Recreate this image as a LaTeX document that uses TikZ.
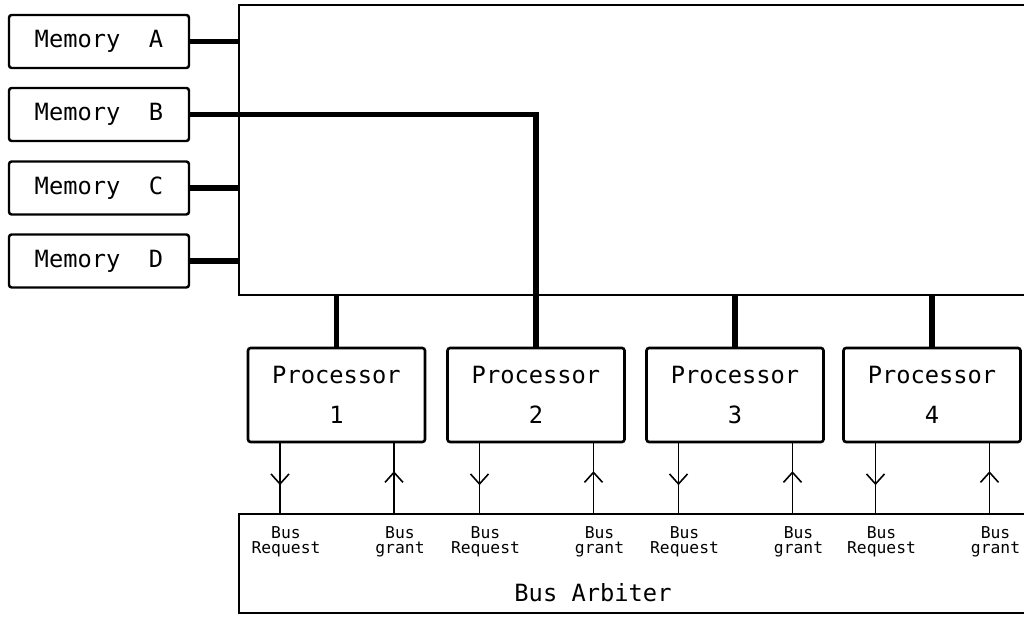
\documentclass[tikz,border=0pt]{standalone}
\usepackage{fontspec}
\setmonofont{DejaVu Sans Mono}
\usepackage{tikz}
\usetikzlibrary{positioning, arrows.meta, calc, decorations.markings}

\tikzset{
	membox/.style={draw, line width=1.4pt, rounded corners=1.5pt, minimum width=3.6cm, minimum height=1.06cm, inner sep=0pt, font=\ttfamily\fontsize{13.5}{16}\selectfont},
	procbox/.style={draw, line width=1.5pt, rounded corners=1.5pt, minimum width=3.54cm, minimum height=1.88cm, inner sep=0pt, align=center, font=\ttfamily\fontsize{13.5}{16}\selectfont},
	bigbox/.style={draw, line width=1.1pt, inner sep=0pt},
	bus/.style={line width=3pt},
	sig/.style={line width=0.9pt, postaction={decorate}, decoration={markings, mark=at position 0.6 with {\arrow{Straight Barb[length=0.2cm, width=0.36cm, line width=0.9pt]}}}},
	siglabel/.style={align=center, inner sep=0pt, font=\ttfamily\fontsize{9.3}{8.5}\selectfont},
}

\begin{document}
\begin{tikzpicture}[x=0.02cm, y=-0.02cm, >=stealth]
		
		\useasboundingbox (0,0) rectangle (1024,617);
		\clip (0,0) rectangle (1024,617);
		
		% Draw interconnect and arbiter
		\node[bigbox, minimum width=15.9cm, minimum height=5.8cm] (xbox) at (636.5,150) {};
		\node[bigbox, minimum width=15.9cm, minimum height=1.98cm] (arb) at (636.5,563.5) {};
		\node[font=\ttfamily\fontsize{13.5}{16}\selectfont] (arbtext) at (593,593) {Bus Arbiter};
		
		% Draw memories
		\foreach \m/\y in {A/41.5, B/114.5, C/188, D/261}
		\node[membox] (mem\m) at (99,\y) {Memory\ \ \m};
		
		\foreach \m in {A, C, D}
		\draw[bus] (mem\m.east) -- (mem\m.east -| xbox.west);
		
		% Draw processors
		\foreach \i/\x in {1/336.5, 2/536, 3/735, 4/932}
		\node[procbox] (proc\i) at (\x,395) {Processor\\[7pt]\i};
		
		\draw[bus] (memB.east) -- (memB.east -| proc2.north) -- (proc2.north);
		\foreach \i in {1, 3, 4}
		\draw[bus] (proc\i.north) -- (proc\i.north |- xbox.south);
		
		% Request and grant lines
		\foreach \i in {1,...,4} {
			\coordinate (rq\i) at ($(proc\i.south)+(-56.5,0)$);
			\coordinate (gt\i) at ($(proc\i.south)+(57.5,0)$);
			\draw[sig] (rq\i) -- (rq\i |- arb.north);
			\draw[sig] (gt\i |- arb.north) -- (gt\i);
			\node[siglabel] (rqlab\i) at ($(rq\i |- arb.north)+(6,29)$) {Bus\\Request};
			\node[siglabel] (gtlab\i) at ($(gt\i |- arb.north)+(6,29)$) {Bus\\grant};
		}

\end{tikzpicture}
\end{document}
